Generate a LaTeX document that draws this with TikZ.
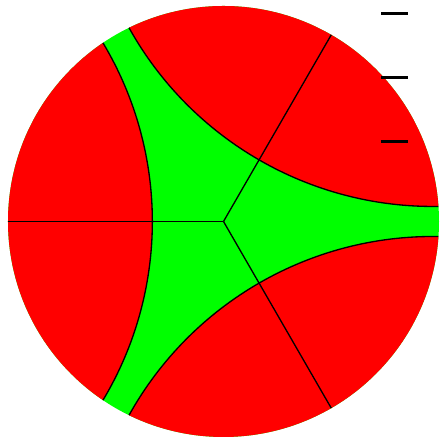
\documentclass[tikz,border=0pt]{standalone}
\definecolor{diskred}{RGB}{255,0,0}
\definecolor{diskgreen}{RGB}{0,255,0}

\begin{document}
\begin{tikzpicture}[
    x=4cm, y=4cm,
    edge/.style={black, line width=0.7pt},
    tick/.style={black, line width=1.6pt}
  ]
  % sides of the green triangle: nearest distance to centre, half opening
  \pgfmathsetmacro{\dmin}{0.33}
  \pgfmathsetmacro{\half}{56}
  \pgfmathsetmacro{\cdist}{(1-\dmin*\dmin)/(2*(cos(\half)-\dmin))}
  \pgfmathsetmacro{\rad}{\cdist-\dmin}
  \pgfmathsetmacro{\sweep}{atan2(sin(\half), \cdist-cos(\half))}

  \useasboundingbox (-1.0371,-1.0046) rectangle (1.0093,1.0278);
  \coordinate (o) at (0,0);

  \fill[diskgreen] (o) circle (1);
  \begin{scope}
    \clip (o) circle (1);
    \foreach \t in {60,180,300}
      \fill[diskred] (\t:\cdist) circle (\rad);
  \end{scope}

  % rays from the centre
  \foreach \t in {60,180,300} {
    \coordinate (b\t) at (\t:1);
    \draw[edge] (o) -- (b\t);
  }
  % sides
  \foreach \t in {60,180,300}
    \draw[edge] (\t+\half:1) arc[start angle=\t+180-\sweep, end angle=\t+180+\sweep, radius=\rad];

  % short marks
  \foreach \y in {0.966,0.669,0.372}
    \draw[tick] (0.731,\y) -- (0.856,\y);
\end{tikzpicture}
\end{document}
